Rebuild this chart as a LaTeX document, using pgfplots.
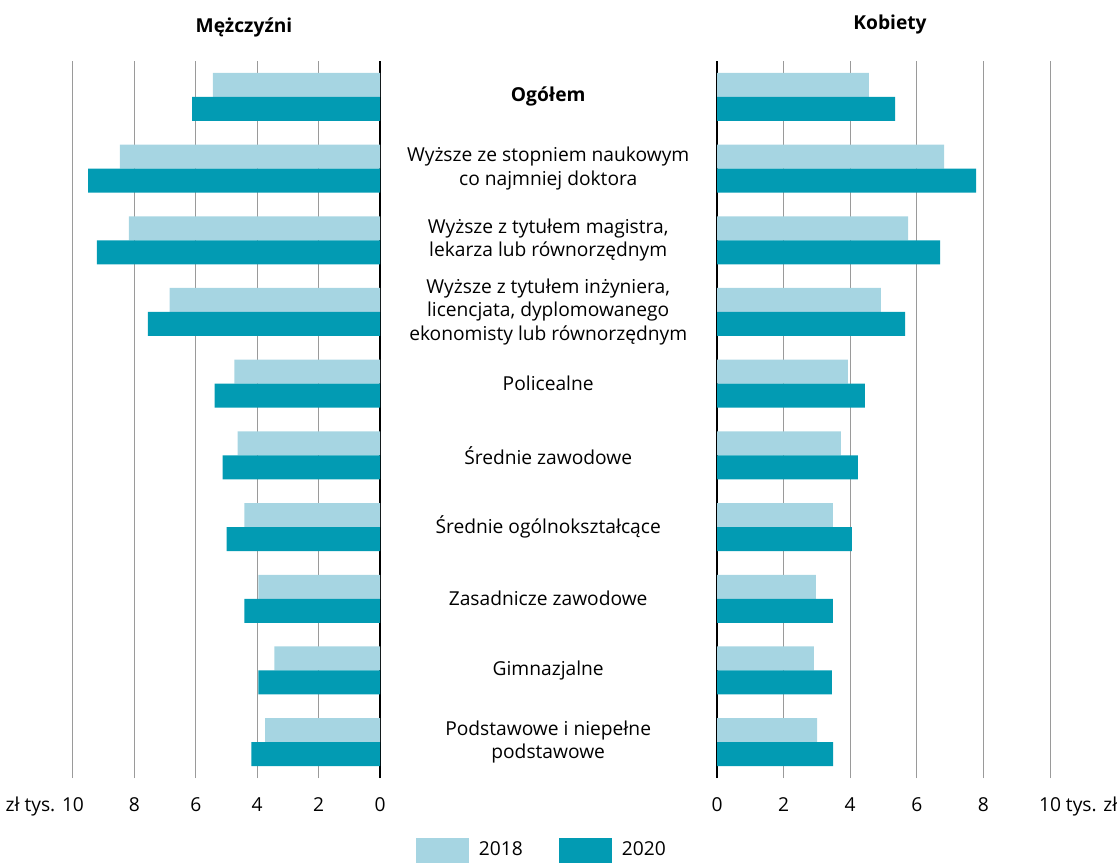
\documentclass[border=0pt]{standalone}
\usepackage{pgfplots}
\pgfplotsset{compat=1.18}
\usepackage{fontspec}
\setmainfont{Open Sans}
\definecolor{c18}{HTML}{A6D5E2}
\definecolor{c20}{HTML}{029BB3}
\definecolor{gridc}{HTML}{9A9A9A}
\begin{document}
\begin{tikzpicture}[font=\fontsize{9.6}{11.6}\selectfont]
\path[use as bounding box] (0,0) rectangle (558.5pt,-431.5pt);
\pgfplotsset{
 common/.style={
  scale only axis, height=358.5pt, xmin=0, xmax=10, ymin=-0.5, ymax=9.5,
  xbar, bar width=12pt, xtick={0,2,4,6,8,10}, ytick=\empty,
  xmajorgrids, grid style={color=gridc, line width=0.5pt},
  axis line style={draw=none}, major tick length=0pt,
  extra x ticks={0}, extra x tick labels={},
  extra x tick style={grid style={black, line width=0.6pt}},
  xticklabel style={anchor=base, yshift=-16.5pt, inner sep=0pt},
  clip=false,
 },
}
% Men
\begin{axis}[common, x dir=reverse, at={(113.25pt,-389pt)}, anchor=south, width=153.5pt,
  xticklabels={0,2,4,6,8,{\llap{zł tys. }10}}]
\addplot[fill=c18, draw=none, bar shift=6pt] coordinates {
 (5.44,9) (8.47,8) (8.18,7) (6.85,6) (4.74,5) (4.64,4) (4.42,3) (3.96,2) (3.44,1) (3.74,0)};
\addplot[fill=c20, draw=none, bar shift=-6pt] coordinates {
 (6.12,9) (9.51,8) (9.22,7) (7.56,6) (5.39,5) (5.13,4) (5.00,3) (4.42,2) (3.96,1) (4.19,0)};
\end{axis}
% Women
\begin{axis}[common, at={(441.75pt,-389pt)}, anchor=south, width=166.5pt,
  xticklabels={0,2,4,6,8,{10\rlap{ tys. zł}}},
  legend style={at={(axis description cs:-0.904,-0.0837)}, anchor=north west, draw=none, fill=none,
    inner sep=0pt, outer sep=0pt, legend columns=2,
    /tikz/every even column/.append style={column sep=13pt},
    nodes={inner xsep=5pt, inner ysep=0pt}},
  legend image code/.code={\fill[#1] (0pt,-6.25pt) rectangle (26.5pt,6.25pt);},
  legend cell align=left]
\addplot[fill=c18, draw=none, bar shift=6pt] coordinates {
 (4.56,9) (6.82,8) (5.74,7) (4.92,6) (3.93,5) (3.72,4) (3.48,3) (2.97,2) (2.91,1) (3.01,0)};
\addlegendentry{2018}
\addplot[fill=c20, draw=none, bar shift=-6pt] coordinates {
 (5.35,9) (7.78,8) (6.70,7) (5.65,6) (4.44,5) (4.23,4) (4.05,3) (3.48,2) (3.45,1) (3.49,0)};
\addlegendentry{2020}
\node[align=center] at (axis cs:-5.07,9) {\textbf{Ogółem}};
\node[align=center] at (axis cs:-5.07,8) {Wyższe ze stopniem naukowym\\co najmniej doktora};
\node[align=center] at (axis cs:-5.07,7) {Wyższe z tytułem magistra,\\lekarza lub równorzędnym};
\node[align=center] at (axis cs:-5.07,6) {Wyższe z tytułem inżyniera,\\licencjata, dyplomowanego\\ekonomisty lub równorzędnym};
\node[align=center] at (axis cs:-5.07,5) {Policealne};
\node[align=center] at (axis cs:-5.07,4) {Średnie zawodowe};
\node[align=center] at (axis cs:-5.07,3) {Średnie ogólnokształcące};
\node[align=center] at (axis cs:-5.07,2) {Zasadnicze zawodowe};
\node[align=center] at (axis cs:-5.07,1) {Gimnazjalne};
\node[align=center] at (axis cs:-5.07,0) {Podstawowe i niepełne\\podstawowe};
\end{axis}
\node[font=\fontsize{9.6}{11.6}\selectfont\bfseries] at (122pt,-13.5pt) {Mężczyźni};
\node[font=\fontsize{9.6}{11.6}\selectfont\bfseries] at (445pt,-12.5pt) {Kobiety};
\end{tikzpicture}
\end{document}
